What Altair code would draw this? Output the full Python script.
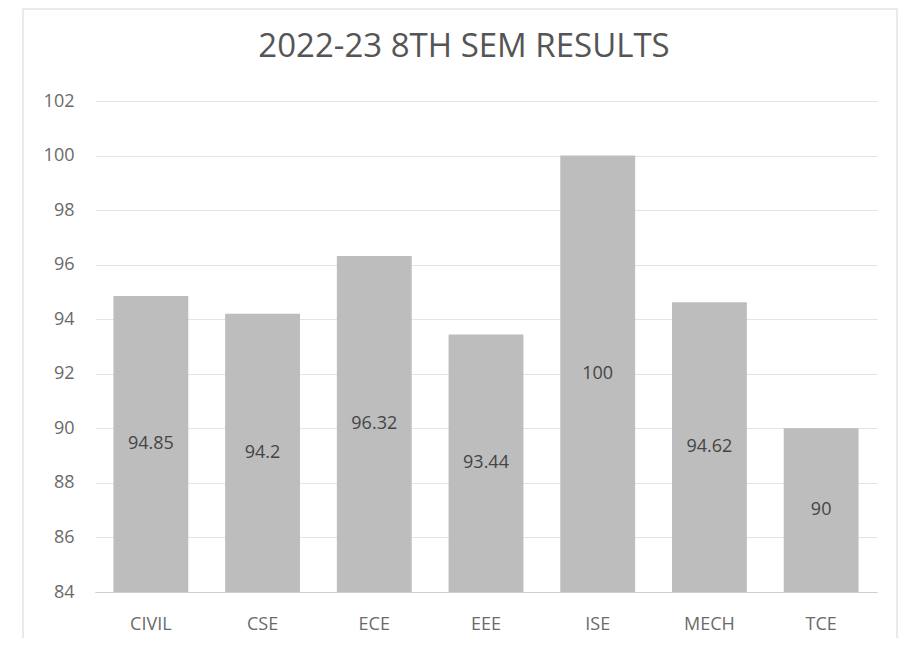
import altair as alt
import pandas as pd

branches = ["CIVIL", "CSE", "ECE", "EEE", "ISE", "MECH", "TCE"]
results = [94.85, 94.2, 96.32, 93.44, 100, 94.62, 90]
label_text = ["94.85", "94.2", "96.32", "93.44", "100", "94.62", "90"]
y_ticks = [84, 86, 88, 90, 92, 94, 96, 98, 100, 102]
chart_title = "2022-23 8TH SEM RESULTS"

df = pd.DataFrame({"branch": branches, "result": results, "label": label_text})

FONT = "Open Sans"
BORDER = "#d6d6d6"

x_enc = alt.X("branch:N", sort=branches, title=None,
              scale=alt.Scale(paddingInner=0.33, paddingOuter=0.165),
              axis=alt.Axis(labelAngle=0, ticks=False, domain=True,
                            domainColor="#cfcfcf", labelPadding=23,
                            labelFontSize=18, labelColor="#6a6a6a",
                            labelFont=FONT, grid=False))
y_scale = alt.Scale(domain=[84, 102], zero=False, nice=False)

bars = alt.Chart(df).mark_bar(color="#bdbdbd").encode(
    x=x_enc,
    y=alt.Y("result:Q", scale=y_scale, title=None,
            axis=alt.Axis(values=y_ticks, ticks=False, domain=False,
                          gridColor="#e4e4e4", labelPadding=21,
                          labelFontSize=18, labelColor="#6a6a6a",
                          labelFont=FONT)),
    y2=alt.datum(84),
)

labels = alt.Chart(df).transform_calculate(
    mid="(84 + datum.result) / 2"
).mark_text(fontSize=18, color="#454545", font=FONT).encode(
    x=alt.X("branch:N", sort=branches),
    y=alt.Y("mid:Q", scale=y_scale),
    text="label:N",
)

title_df = pd.DataFrame({"t": [chart_title]})
title_mark = alt.Chart(title_df).mark_text(
    fontSize=33, color="#555555", font=FONT, baseline="alphabetic", align="center", clip=False
).encode(x=alt.value(369), y=alt.value(-44), text="t:N")

left_rule = alt.Chart(title_df).mark_rule(color=BORDER, clip=False).encode(
    x=alt.value(-72), y=alt.value(-92), y2=alt.value(537))
right_rule = alt.Chart(title_df).mark_rule(color=BORDER, clip=False).encode(
    x=alt.value(802), y=alt.value(-92), y2=alt.value(537))
top_rule = alt.Chart(title_df).mark_rule(color=BORDER, clip=False).encode(
    x=alt.value(-72), x2=alt.value(802), y=alt.value(-92))

chart = alt.layer(left_rule, right_rule, top_rule, bars, labels, title_mark).properties(
    width=782, height=491,
    padding={"left": 14, "top": 0, "right": 0, "bottom": 0},
    background="white",
).configure_view(stroke=None)

chart.save("out.html", embed_options={"renderer": "svg", "actions": False})
